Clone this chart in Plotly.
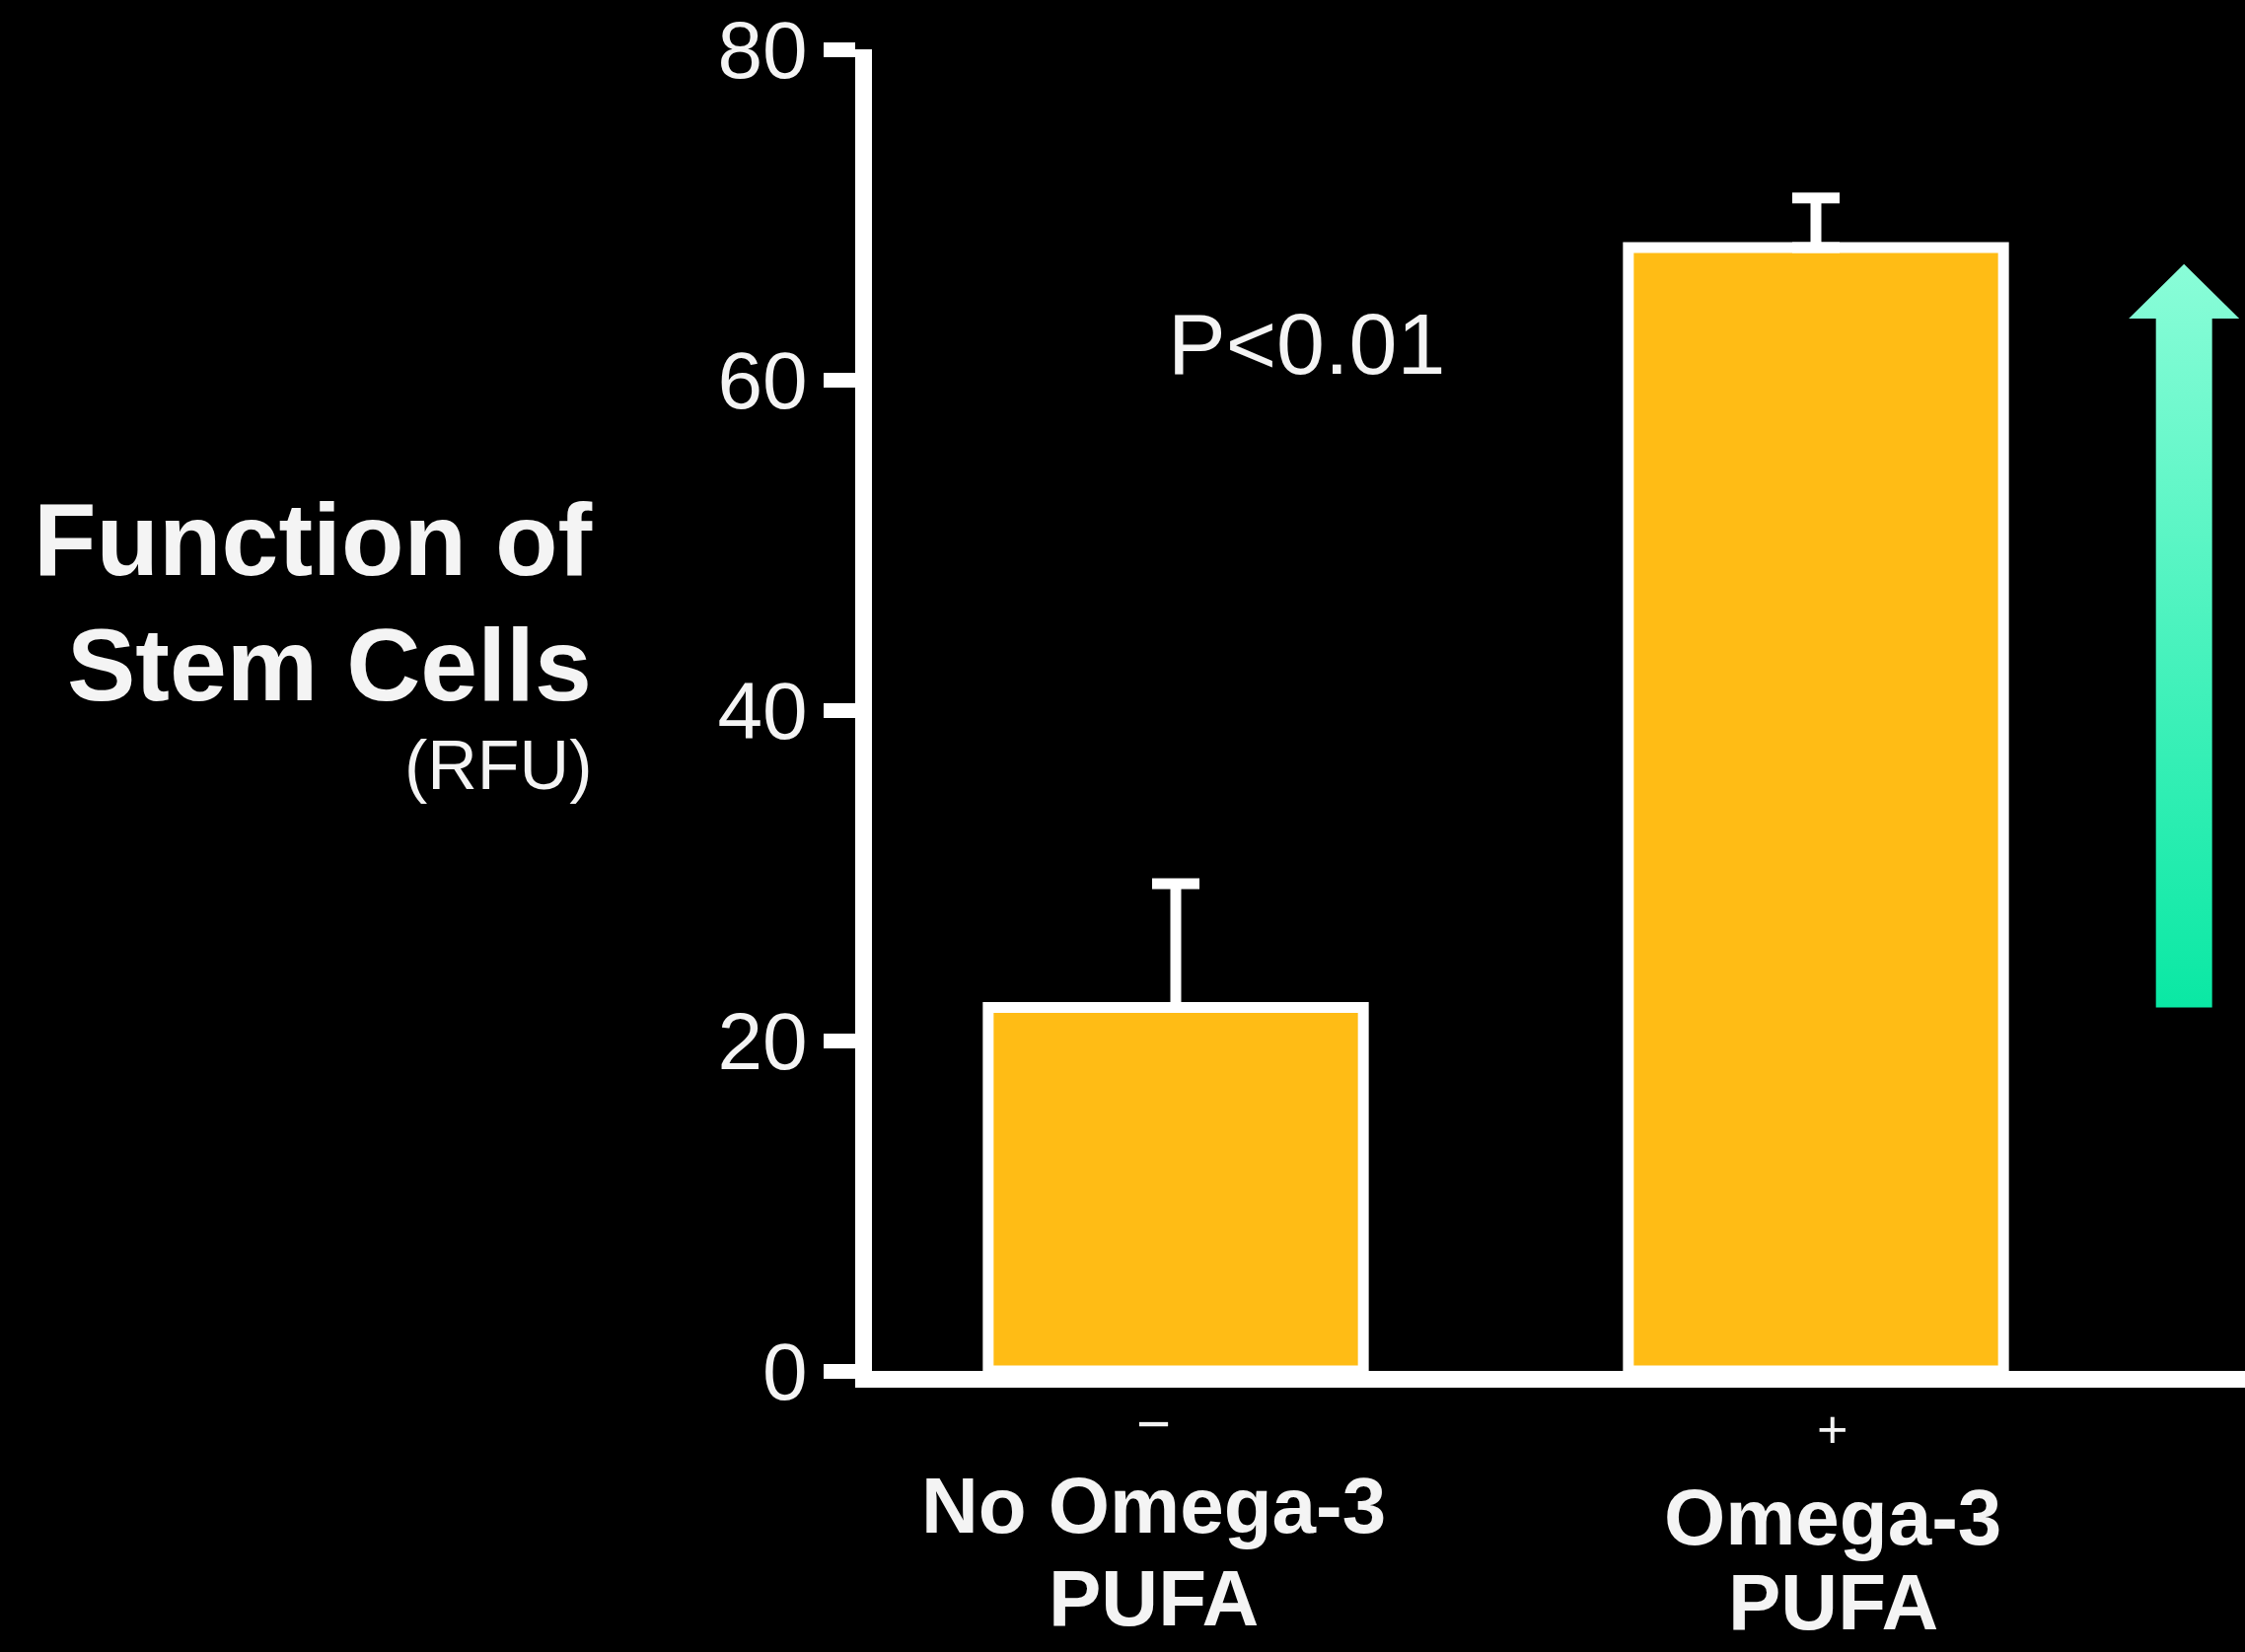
import plotly.graph_objects as go

# ---- data ----
categories = ["No Omega-3 PUFA", "Omega-3 PUFA"]
signs = ["\u2212", "+"]
label_lines = [["No Omega-3", "PUFA"], ["Omega-3", "PUFA"]]
values = [22, 68]
err_plus = [7.5, 3]
y_ticks = [0, 20, 40, 60, 80]
p_text = "P<0.01"

W, H = 2276, 1675
ML, MR, MT, MB = 884, 0, 50, 285
FONT = "Liberation Sans, Arial, Helvetica, sans-serif"
WHITE = "#f4f4f4"
BAR = "#FFBC15"

plot_h = H - MT - MB

def py(pix):
    """pixel row -> paper y"""
    return (H - MB - pix) / plot_h

def px(pix):
    return (pix - ML) / (W - ML - MR)

xs = list(range(len(categories)))
# x range chosen so bar centres fall where the reference puts them
x_left = -(1192 - ML) / 649
x_right = 1 + (W - MR - 1841) / 649

fig = go.Figure()
fig.add_trace(go.Bar(
    x=xs, y=values, width=0.586,
    marker=dict(color=BAR, line=dict(color="white", width=11)),
    error_y=dict(type="data", symmetric=False, array=err_plus,
                 arrayminus=[0] * len(values), color="white",
                 thickness=11, width=24),
    hoverinfo="skip", showlegend=False,
))

# gradient arrow showing the increase from bar 1 to bar 2
ax_c, head_hw, shaft_hw, head_len = 1.575, 0.0863, 0.0439, 3.3
a_bot, a_top = values[0], values[1] - 1
arrow_x = [ax_c - shaft_hw, ax_c - shaft_hw, ax_c - head_hw, ax_c,
           ax_c + head_hw, ax_c + shaft_hw, ax_c + shaft_hw, ax_c - shaft_hw]
arrow_y = [a_bot, a_top - head_len, a_top - head_len, a_top,
           a_top - head_len, a_top - head_len, a_bot, a_bot]
fig.add_trace(go.Scatter(
    x=arrow_x, y=arrow_y, mode="lines", fill="toself",
    line=dict(width=0, color="rgba(0,0,0,0)"),
    fillgradient=dict(type="vertical",
                      colorscale=[[0, "#0AE8A4"], [1, "#8AFDD8"]]),
    hoverinfo="skip", showlegend=False,
))

annotations = []
# category labels
sign_y = [1443, 1449]
sign_size = [60, 54]
line1_base = [1554, 1566]
line_gap = [94, 86]
label_shift = [-23, 17]
for i in xs:
    annotations.append(dict(x=i, xref="x", y=py(sign_y[i]), yref="paper",
                            text=signs[i], showarrow=False, yanchor="middle",
                            xshift=label_shift[i],
                            font=dict(family=FONT, size=sign_size[i],
                                      color=WHITE)))
    for j, line in enumerate(label_lines[i]):
        base = line1_base[i] + line_gap[i] * j
        annotations.append(dict(x=i, xref="x", y=py(base - 28), yref="paper",
                                text=f"<b>{line}</b>", showarrow=False,
                                yanchor="middle", xshift=label_shift[i],
                                font=dict(family=FONT, size=80, color=WHITE)))

# y-axis title
for txt, base, size in [("<b>Function of</b>", 583, 104),
                        ("<b>Stem Cells</b>", 710, 104),
                        ("(RFU)", 800, 70)]:
    annotations.append(dict(x=px(602), xref="paper", y=py(base - 0.35 * size),
                            yref="paper", text=txt, showarrow=False,
                            xanchor="right", yanchor="middle",
                            font=dict(family=FONT, size=size, color=WHITE)))

# significance
annotations.append(dict(x=(1324 - 1192) / 649, xref="x", y=py(349),
                        yref="paper", text=p_text, showarrow=False,
                        yanchor="middle",
                        font=dict(family=FONT, size=88, color=WHITE)))

fig.update_layout(
    width=W, height=H,
    margin=dict(l=ML, r=MR, t=MT, b=MB, pad=0),
    paper_bgcolor="black", plot_bgcolor="black",
    showlegend=False,
    xaxis=dict(range=[x_left, x_right], showgrid=False, zeroline=False,
               showticklabels=False, ticks="", showline=True,
               linecolor="white", linewidth=17, fixedrange=True),
    yaxis=dict(range=[0, 80], tickvals=y_ticks, showgrid=False,
               zeroline=False, showline=True, linecolor="white",
               linewidth=17, ticks="outside", ticklen=32, tickwidth=15,
               tickcolor="white", ticklabeloverflow="allow",
               tickfont=dict(family=FONT, size=82, color=WHITE),
               fixedrange=True),
    annotations=annotations,
)

fig.write_html(
    "out.html",
    config={"displayModeBar": False, "staticPlot": True},
    post_script=("document.body.style.margin='0';"
                 "document.body.style.background='black';"),
)
